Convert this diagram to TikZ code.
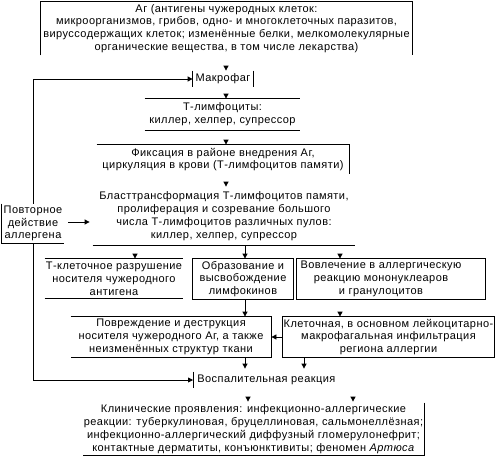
\documentclass[tikz,border=0pt]{standalone}
\usepackage{fontspec}
\setmainfont{Liberation Sans}[LetterSpace=4]
\usetikzlibrary{arrows.meta,calc}
\begin{document}
\begin{tikzpicture}[x=1pt,y=-1pt,line width=0.8pt,
  txt/.style={font=\fontsize{11}{12.8}\selectfont, align=center, inner sep=0pt},
  arr/.style={-{Triangle[length=5pt,width=5pt]}},
  tri/.style={-{Triangle[length=5pt,width=5pt]}, shorten <=0pt}]
\useasboundingbox (0,0) rectangle (498,458);

\node[txt, minimum width=371pt, minimum height=53pt] (ag) at (226.5,28.5)
 {Аг (антигены чужеродных клеток:\\микроорганизмов, грибов, одно- и многоклеточных паразитов,\\вируссодержащих клеток; изменённые белки, мелкомолекулярные\\органические вещества, в том числе лекарства)};
\node[txt, minimum width=60pt, minimum height=16pt] (mak) at (223,79) {Макрофаг};
\node[txt, minimum width=155pt, minimum height=31pt] (tl) at (222.5,114.5) {Т-лимфоциты:\\киллер, хелпер, супрессор};
\node[txt, minimum width=252pt, minimum height=29pt] (fix) at (223,159.5) {Фиксация в районе внедрения Аг,\\циркуляция в крови (Т-лимфоцитов памяти)};
\node[txt, minimum width=262pt, minimum height=58pt] (blast) at (224,216)
 {Бласттрансформация Т-лимфоцитов памяти,\\пролиферация и созревание большого\\числа Т-лимфоцитов различных пулов:\\киллер, хелпер, супрессор};
\node[txt, minimum width=62pt, minimum height=39pt] (rep) at (33,223.5) {Повторное\\действие\\аллергена};
\node[txt, minimum width=138pt, minimum height=39pt] (tcell) at (114,278.5) {Т-клеточное разрушение\\носителя чужеродного\\антигена};
\node[txt, minimum width=100pt, minimum height=40pt] (obr) at (243,279) {Образование и\\высвобождение\\лимфокинов};
\node[txt, minimum width=168pt, minimum height=40pt] (vov) at (381,279) {Вовлечение в аллергическую\\реакцию мононуклеаров\\и гранулоцитов};
\node[txt, minimum width=200pt, minimum height=40pt] (pov) at (171,337) {Повреждение и деструкция\\носителя чужеродного Аг, а также\\неизменённых структур ткани};
\node[txt, minimum width=211pt, minimum height=40pt] (klet) at (388.5,337) {Клеточная, в основном лейкоцитарно-\\макрофагальная инфильтрация\\региона аллергии};
\node[txt, anchor=west, inner xsep=4pt, minimum height=16pt] (vosp) at (193,380) {Воспалительная реакция};
\node[txt, minimum width=341pt, minimum height=52pt] (clin) at (253.5,429)
 {Клинические проявления: инфекционно-аллергические\\реакции: туберкулиновая, бруцеллиновая, сальмонеллёзная;\\инфекционно-аллергический диффузный гломерулонефрит;\\контактные дерматиты, конъюнктивиты; феномен \textit{Артюса}};

% borders
\draw (ag.south west) -- (ag.north west) -- (ag.north east) -- (ag.south east);
\draw (mak.north west) -- (mak.south west) (mak.north east) -- (mak.south east);
\draw (tl.north west) -- (tl.north east) (tl.south west) -- (tl.south east);
\draw (fix.north west) -- (fix.north east) -- (fix.south east);
\draw (blast.south west) -- (blast.south east);
\draw (rep.north west) -- (rep.south west) -- (rep.south east);
\draw (tcell.north west) -- (tcell.north east) (tcell.south west) -- (tcell.south east);
\draw (obr.north west) rectangle (obr.south east);
\draw (vov.north west) rectangle ($(vov.south east)+(20,0)$);
\draw (pov.north west) -- (pov.north east) -- (pov.south east) -- (pov.south west);
\draw (klet.north west) rectangle (klet.south east);
\draw (vosp.north west) -- (vosp.south west);
\draw (clin.north east) -- (clin.south east) -- (clin.south west);

% arrows
\draw[tri] ($(226,0 |- mak.north)+(0,-5)$) -- (226,0 |- mak.north);
\draw[tri] ($(226,0 |- tl.north)+(0,-5)$) -- (226,0 |- tl.north);
\draw[tri] ($(226,0 |- fix.north)+(0,-5)$) -- (226,0 |- fix.north);
\draw[tri] ($(226,0 |- blast.north)+(0,-5)$) -- (226,0 |- blast.north);
\draw[tri] ($(135,0 |- tcell.north)+(0,-5)$) -- (135,0 |- tcell.north);
\draw[arr] (245,0 |- blast.south) -- (245,0 |- obr.north);
\draw[tri] ($(340,0 |- vov.north)+(0,-5)$) -- (340,0 |- vov.north);
\draw[arr] (245,0 |- obr.south) -- (245,0 |- pov.north);
\draw[tri] ($(340,0 |- klet.north)+(0,-5)$) -- (340,0 |- klet.north);
\draw[arr] (klet.west) -- (pov.east);
\draw[arr, shorten >=3pt] (245,0 |- pov.south) -- (245,0 |- vosp.north);
\draw[arr, shorten >=3pt] (304,0 |- klet.south) -- (304,0 |- vosp.north);
\draw[tri] ($(248,0 |- clin.north)+(0,-6)$) -- ($(248,0 |- clin.north)+(0,-1)$);
\draw[tri] ($(353,0 |- clin.north)+(0,-6)$) -- ($(353,0 |- clin.north)+(0,-1)$);
\draw[arr] (rep.north) |- (mak.west);
\draw[arr] (rep.south) |- (vosp.west);
\draw[arr, shorten <=4pt, shorten >=3pt] ($(rep.east)+(0,-1.5)$) -- ($(rep.east -| blast.west)+(0,-1.5)$);
\end{tikzpicture}
\end{document}
